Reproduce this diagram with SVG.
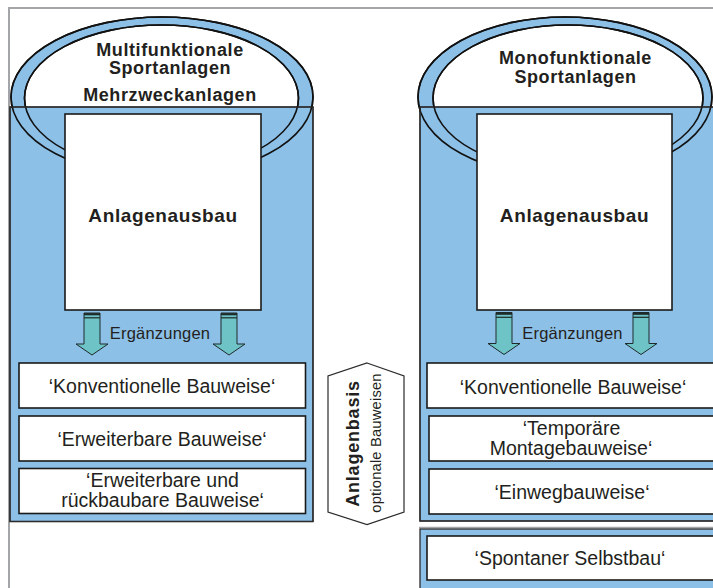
<svg xmlns="http://www.w3.org/2000/svg" xmlns:xlink="http://www.w3.org/1999/xlink" width="713" height="588" viewBox="0 0 713 588">
<style>
text{font-family:"Liberation Sans",Arial,sans-serif;fill:#231f20;text-anchor:middle}
.b{font-weight:bold;font-size:18px;letter-spacing:0.6px}
.r{font-size:19.5px}
.e{font-size:16.5px;letter-spacing:0.2px}
.panel{fill:#8dc0e7;stroke:#2b2b2b;stroke-width:1.3}
.ring{fill:#8dc0e7;stroke:#111;stroke-width:1.6}
.inner{fill:#fff;stroke:#111;stroke-width:1.6}
.line{fill:none;stroke:#111;stroke-width:1.6}
.box{fill:#fff;stroke:#1a1a1a;stroke-width:1.6}
.frame{fill:none;stroke:#a3a5a8;stroke-width:2}
</style>
<defs>
<g id="arrow">
<path d="M-8,0 H8 V31 H16 L0,42 L-16,31 H-8 Z" fill="#6dc3c6" stroke="#1f2a2a" stroke-width="1"/>
<line x1="-8" y1="1.2" x2="8" y2="1.2" stroke="#1f2a2a" stroke-width="2.2"/>
<line x1="-8" y1="4.8" x2="8" y2="4.8" stroke="#1f2a2a" stroke-width="1.2"/>
</g>
</defs>
<rect width="713" height="588" fill="#fff"/>
<g id="frame">
<path class="frame" d="M9,588 V8 H713"/>
</g>
<g id="left-panel">
<ellipse class="ring" cx="162" cy="97" rx="151" ry="80"/>
<ellipse class="inner" cx="161.5" cy="98" rx="137" ry="73"/>
<rect class="panel" x="10" y="107" width="303" height="414.5"/>
<ellipse class="line" cx="162" cy="97" rx="151" ry="80"/>
<ellipse class="line" cx="161.5" cy="98" rx="137" ry="73"/>
<rect class="panel" x="10" y="107" width="303" height="414.5" style="fill:none"/>
<text class="b" x="170" y="55.5">Multifunktionale</text>
<text class="b" x="170" y="73.5">Sportanlagen</text>
<text class="b" x="170" y="100.5">Mehrzweckanlagen</text>
</g>
<g id="left-ausbau">
<rect class="box" x="65" y="114" width="196" height="196"/>
<text class="b" x="163" y="222" style="font-size:19px;letter-spacing:0.6px">Anlagenausbau</text>
</g>
<g id="right-panel">
<ellipse class="ring" cx="565" cy="97" rx="147" ry="80"/>
<ellipse class="inner" cx="568" cy="98" rx="135" ry="73"/>
<rect class="panel" x="420" y="107" width="310" height="414"/>
<ellipse class="line" cx="565" cy="97" rx="147" ry="80"/>
<ellipse class="line" cx="568" cy="98" rx="135" ry="73"/>
<rect class="panel" x="420" y="107" width="310" height="414" style="fill:none"/>
<text class="b" x="575.5" y="64">Monofunktionale</text>
<text class="b" x="575.5" y="82.5">Sportanlagen</text>
</g>
<g id="right-ausbau">
<rect class="box" x="477" y="114" width="195" height="196"/>
<text class="b" x="574.5" y="222" style="font-size:19px;letter-spacing:0.6px">Anlagenausbau</text>
</g>
<g id="connectors">
<use xlink:href="#arrow" href="#arrow" x="92" y="313"/>
<use xlink:href="#arrow" href="#arrow" x="229" y="313"/>
<use xlink:href="#arrow" href="#arrow" x="504" y="312.5"/>
<use xlink:href="#arrow" href="#arrow" x="641" y="312.5"/>
<text class="e" x="160" y="338.5">Ergänzungen</text>
<text class="e" x="572.5" y="339">Ergänzungen</text>
</g>
<g id="l-konv">
<rect class="box" x="19" y="363" width="286.5" height="45"/>
<text class="r" x="162" y="392.5">‘Konventionelle Bauweise‘</text>
</g>
<g id="l-erw">
<rect class="box" x="19" y="416" width="286.5" height="45"/>
<text class="r" x="162" y="445.5">‘Erweiterbare Bauweise‘</text>
</g>
<g id="l-erw-rueck">
<rect class="box" x="19" y="468.5" width="286.5" height="45"/>
<text class="r" x="162.5" y="486.5">‘Erweiterbare und</text>
<text class="r" x="162.5" y="507">rückbaubare Bauweise‘</text>
</g>
<g id="basis">
<path d="M367,363 L404,376 V512 L367,524.5 L328,512 V376 Z" fill="#fff" stroke="#2b2b2b" stroke-width="1.2"/>
<text class="b" transform="translate(358.5,443.5) rotate(-90)" style="letter-spacing:0.8px">Anlagenbasis</text>
<text transform="translate(381,443) rotate(-90)" style="font-size:14.8px;letter-spacing:0.15px">optionale Bauweisen</text>
</g>
<g id="r-konv">
<rect class="box" x="427" y="363" width="295" height="45"/>
<text class="r" x="573" y="393.5">‘Konventionelle Bauweise‘</text>
</g>
<g id="r-temp">
<rect class="box" x="429" y="416" width="293" height="45"/>
<text class="r" x="571.5" y="435">‘Temporäre</text>
<text class="r" x="571" y="455">Montagebauweise‘</text>
</g>
<g id="r-einweg">
<rect class="box" x="429" y="469" width="293" height="45"/>
<text class="r" x="572" y="498.5">‘Einwegbauweise‘</text>
</g>
<g id="spontan">
<line x1="419" y1="527.5" x2="713" y2="527.5" stroke="#a3a5a8" stroke-width="1.5"/>
<rect class="panel" x="420" y="529" width="310" height="70"/>
<rect class="box" x="427" y="536" width="295" height="44"/>
<text class="r" x="570" y="565">‘Spontaner Selbstbau‘</text>
</g>
</svg>
